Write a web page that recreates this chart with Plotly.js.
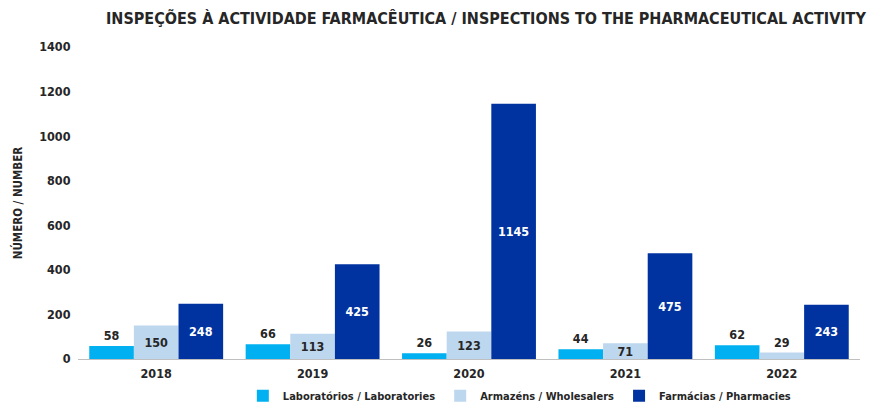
<!DOCTYPE html>
<html><head><meta charset="utf-8">
<script src="https://cdn.plot.ly/plotly-3.0.1.min.js"></script>
<style>body{margin:0;background:#fff}#c{width:874px;height:403px}</style>
</head><body><div id="c"></div>
<script>
const years = ['2018','2019','2020','2021','2022'];
const labs = [58, 66, 26, 44, 62];
const wholesalers = [150, 113, 123, 71, 29];
const pharmacies = [248, 425, 1145, 475, 243];
const names = ['Laboratórios / Laboratories', 'Armazéns / Wholesalers', 'Farmácias / Pharmacies'];
const colors = ['#00B0F0', '#BDD7EE', '#0033A0'];
const yTicks = [0, 200, 400, 600, 800, 1000, 1200, 1400];

const F = "'Liberation Sans Narrow', 'DejaVu Sans Condensed', 'Open Sans', sans-serif";
const lblFont = {family: F, size: 12.5, color: '#262626', weight: 'bold'};

const traces = [
  {type:'bar', name:names[0], x:years, y:labs, marker:{color:colors[0]},
   text:labs.map(String), textposition:'outside', textfont:lblFont, cliponaxis:false},
  {type:'bar', name:names[1], x:years, y:wholesalers, marker:{color:colors[1]},
   text:wholesalers.map(String), textposition:wholesalers.map(v => v < 50 ? 'outside' : 'inside'),
   insidetextanchor:'middle', constraintext:'none',
   insidetextfont:lblFont, outsidetextfont:lblFont, cliponaxis:false},
  {type:'bar', name:names[2], x:years, y:pharmacies, marker:{color:colors[2]},
   text:pharmacies.map(String), textposition:'inside', insidetextanchor:'middle', constraintext:'none',
   insidetextfont:{family:F, size:12.5, color:'#ffffff', weight:'bold'}, cliponaxis:false}
];

const layout = {
  width:874, height:403,
  margin:{l:78, r:14, t:47, b:44, autoexpand:false},
  paper_bgcolor:'#ffffff', plot_bgcolor:'#ffffff',
  font:{family:F, color:'#262626'},
  title:{text:'INSPEÇÕES À ACTIVIDADE FARMACÊUTICA / INSPECTIONS TO THE PHARMACEUTICAL ACTIVITY',
    font:{family:F, size:16, color:'#262626', weight:'bold'}, x:0.556, xanchor:'center', y:0.955, yanchor:'middle'},
  barmode:'group', bargap:0.144, bargroupgap:0,
  showlegend:true,
  legend:{orientation:'h', x:0.565, xanchor:'center', y:-0.071, yanchor:'top', bgcolor:'rgba(0,0,0,0)',
    font:{family:F, size:11, color:'#262626', weight:'bold'}, itemwidth:30, traceorder:'normal'},
  xaxis:{type:'category', showgrid:false, showline:true, linecolor:'#bfbfbf', linewidth:1,
    ticks:'outside', ticklen:3, tickcolor:'rgba(0,0,0,0)',
    tickfont:{family:F, size:12.5, color:'#262626', weight:'bold'}},
  yaxis:{range:[0,1400], tickvals:yTicks, showgrid:false, zeroline:false, showline:false,
    ticks:'outside', ticklen:4, tickcolor:'rgba(0,0,0,0)',
    tickfont:{family:F, size:12.5, color:'#262626', weight:'bold'},
    title:{text:'NÚMERO / NUMBER', font:{family:F, size:11.5, color:'#262626', weight:'bold'}, standoff:14}}
};
Plotly.newPlot('c', traces, layout, {displayModeBar:false});
</script></body></html>
